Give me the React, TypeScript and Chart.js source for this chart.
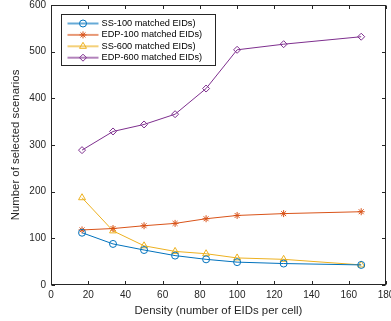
import React, { useEffect, useRef } from 'react';
import { Chart, registerables } from 'chart.js';
import { drawPoint } from 'chart.js/helpers';

Chart.register(...registerables);

const density = [16.67, 33.33, 50, 66.67, 83.33, 100, 125, 166.67];
const ss100 = [112, 88, 75, 63, 55, 49, 46, 43];
const edp100 = [118, 121, 127, 132, 142, 149, 153, 157];
const ss600 = [187, 116, 84, 72, 67, 58, 55, 43];
const edp600 = [289, 329, 344, 366, 421, 504, 516, 532];
const seriesNames = ['SS-100 matched EIDs)', 'EDP-100 matched EIDs)', 'SS-600 matched EIDs)', 'EDP-600 matched EIDs)'];
const seriesColors = ['#0072BD', '#D95319', '#EDB120', '#7E2F8E'];
const seriesMarkers = ['circle', 'star', 'triangle', 'rectRot'];
const xTicks = [0, 20, 40, 60, 80, 100, 120, 140, 160, 180];
const yTicks = [0, 100, 200, 300, 400, 500, 600];
const xTitle = 'Density (number of EIDs per cell)';
const yTitle = 'Number of selected scenarios';

const FONT = '"Liberation Sans", Arial, Helvetica, sans-serif';
const AXIS = '#262626';

const boxPlugin = {
  id: 'matBox',
  afterDraw(chart: any) {
    const ctx = chart.ctx;
    const { left, right, top, bottom } = chart.chartArea;
    const xs = chart.scales.x;
    const ys = chart.scales.y;
    ctx.save();
    ctx.strokeStyle = AXIS;
    ctx.lineWidth = 1;
    const L = Math.round(left) + 0.5, R = Math.round(right) - 0.5;
    const T = Math.round(top) + 0.5, B = Math.round(bottom) - 0.5;
    ctx.strokeRect(L, T, R - L, B - T);
    const tl = 3.5;
    ctx.beginPath();
    xTicks.forEach((v) => {
      const px = Math.round(xs.getPixelForValue(v)) + 0.5;
      ctx.moveTo(px, B); ctx.lineTo(px, B - tl);
      ctx.moveTo(px, T); ctx.lineTo(px, T + tl);
    });
    yTicks.forEach((v) => {
      const py = Math.round(ys.getPixelForValue(v)) + 0.5;
      ctx.moveTo(L, py); ctx.lineTo(L + tl, py);
      ctx.moveTo(R, py); ctx.lineTo(R - tl, py);
    });
    ctx.stroke();
    ctx.restore();
  },
};

const legendPlugin = {
  id: 'matLegend',
  afterDatasetsDraw(chart: any) {
    const ctx = chart.ctx;
    const { left, top } = chart.chartArea;
    const x0 = Math.round(left + 10) + 0.5;
    const y0 = Math.round(top + 8.5) + 0.5;
    const items = chart.data.datasets;
    ctx.save();
    ctx.font = `9.2px ${FONT}`;
    const rowH = 11.4;
    const textW = Math.max(...items.map((d: any) => ctx.measureText(d.label).width));
    const w = Math.round(40 + textW + 13);
    const h = Math.round(9 + (items.length - 1) * rowH + 7.5);
    ctx.fillStyle = '#ffffff';
    ctx.fillRect(x0, y0, w, h);
    ctx.strokeStyle = AXIS;
    ctx.lineWidth = 1;
    ctx.strokeRect(x0, y0, w, h);
    items.forEach((d: any, i: number) => {
      const cy = y0 + 9 + i * rowH;
      ctx.save();
      ctx.globalAlpha = 0.6;
      ctx.strokeStyle = d.borderColor;
      ctx.lineWidth = 2;
      ctx.beginPath();
      ctx.moveTo(x0 + 6, cy);
      ctx.lineTo(x0 + 37, cy);
      ctx.stroke();
      ctx.restore();
      ctx.strokeStyle = d.borderColor;
      ctx.lineWidth = 1;
      ctx.fillStyle = 'rgba(0,0,0,0)';
      drawPoint(ctx, { pointStyle: d.pointStyle, radius: d.pointRadius, rotation: 0, borderWidth: 1 } as any, x0 + 21.5, cy);
      ctx.fillStyle = '#000000';
      ctx.textBaseline = 'middle';
      ctx.textAlign = 'left';
      ctx.fillText(d.label, x0 + 40, cy);
    });
    ctx.restore();
  },
};

export default function App() {
  const ref = useRef<HTMLCanvasElement>(null);
  useEffect(() => {
    document.body.style.margin = '0';
    const allSeries = [ss100, edp100, ss600, edp600];
    const chart = new Chart(ref.current!, {
      type: 'line',
      data: {
        datasets: allSeries.map((s, i) => ({
          label: seriesNames[i],
          data: s.map((y, j) => ({ x: density[j], y })),
          borderColor: seriesColors[i],
          backgroundColor: 'rgba(0,0,0,0)',
          pointBorderColor: seriesColors[i],
          pointBackgroundColor: 'rgba(0,0,0,0)',
          borderWidth: 1,
          pointBorderWidth: 1,
          pointStyle: seriesMarkers[i] as any,
          pointRadius: i === 2 ? 4 : 3.5,
          tension: 0,
          fill: false,
        })),
      },
      options: {
        animation: false,
        responsive: false,
        events: [],
        layout: { padding: { top: 5, right: 1, left: 0, bottom: 0 } },
        plugins: { legend: { display: false }, tooltip: { enabled: false } },
        scales: {
          x: {
            type: 'linear',
            min: 0,
            max: 180,
            afterBuildTicks: (s: any) => { s.ticks = xTicks.map((v) => ({ value: v })); },
            afterFit: (s: any) => { s.height = 36; s.paddingLeft = 0; s.paddingRight = 0; },
            grid: { display: false, drawTicks: false },
            border: { display: false },
            ticks: { color: AXIS, font: { family: FONT, size: 10 }, padding: 4, maxRotation: 0, autoSkip: false },
            title: { display: true, text: xTitle, color: AXIS, font: { family: FONT, size: 11.4 }, padding: { top: 0, bottom: 3.2 } },
          },
          y: {
            type: 'linear',
            min: 0,
            max: 600,
            afterBuildTicks: (s: any) => { s.ticks = yTicks.map((v) => ({ value: v })); },
            afterFit: (s: any) => { s.width = 51; s.paddingTop = 0; s.paddingBottom = 0; },
            grid: { display: false, drawTicks: false },
            border: { display: false },
            ticks: { color: AXIS, font: { family: FONT, size: 10 }, padding: 5, autoSkip: false },
            title: { display: true, text: yTitle, color: AXIS, font: { family: FONT, size: 11.4 }, padding: { top: 9.2, bottom: 0 } },
          },
        },
      },
      plugins: [boxPlugin, legendPlugin],
    });
    return () => chart.destroy();
  }, []);
  return (
    <div style={{ width: 391, height: 321 }}>
      <canvas ref={ref} width={391} height={321} style={{ display: 'block', width: 391, height: 321 }} />
    </div>
  );
}
